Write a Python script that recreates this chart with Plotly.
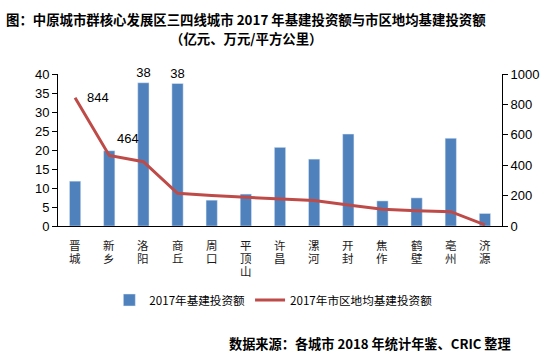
import plotly.graph_objects as go

cities = ["晋城", "新乡", "洛阳", "商丘", "周口", "平顶山", "许昌", "漯河", "开封", "焦作", "鹤壁", "亳州", "济源"]
invest = [11.8, 19.8, 37.7, 37.5, 6.8, 8.4, 20.7, 17.6, 24.2, 6.6, 7.4, 23.1, 3.3]
density = [844, 464, 423, 215, 200, 189, 182, 167, 138, 110, 101, 94, 8]
bar_label_idx = [2, 3]
line_label_idx = [0, 1]
title_lines = ["图：中原城市群核心发展区三四线城市 2017 年基建投资额与市区地均基建投资额",
               "（亿元、万元/平方公里）"]
source_text = "数据来源：各城市 2018 年统计年鉴、CRIC 整理"

FONT = "Liberation Sans, Arial, Noto Sans CJK SC"
CJK = "Noto Sans CJK SC"

# plot-area geometry in pixels (for placing annotations in paper coords)
L, R, T, B = 58, 507, 74, 226
PW, PH = R - L, B - T


def px_x(x):
    return (x - L) / PW


def px_y(y):
    return (B - y) / PH


bar_text = [f"{round(v)}" if i in bar_label_idx else "" for i, v in enumerate(invest)]

fig = go.Figure()
fig.add_trace(go.Bar(
    x=cities, y=invest, name="2017年基建投资额",
    marker=dict(color="#4F81BD"), width=0.33,
    text=bar_text, textposition="outside", cliponaxis=False, constraintext="none",
    textfont=dict(size=13, color="#000000", family=FONT),
))
fig.add_trace(go.Scatter(
    x=cities, y=density, name="2017年市区地均基建投资额", yaxis="y2",
    mode="lines", line=dict(color="#BE4B48", width=3), cliponaxis=False,
))

label_offsets = {0: (23, 0), 1: (19, 17)}
annotations = []
for i in line_label_idx:
    dx, dy = label_offsets[i]
    annotations.append(dict(
        x=cities[i], y=density[i], xref="x", yref="y2", text=str(density[i]),
        showarrow=False, xshift=dx, yshift=dy,
        font=dict(size=13, family=FONT, color="#000000"),
    ))
# vertical (stacked) category labels
for c in cities:
    for k, ch in enumerate(c):
        annotations.append(dict(
            x=c, xref="x", y=px_y(245 + 13 * k), yref="paper", yanchor="middle",
            text=ch, showarrow=False, borderpad=0,
            font=dict(size=11.5, family=CJK, color="#1a1a1a"),
        ))
for line, ypx in zip(title_lines, [19, 38]):
    annotations.append(dict(
        text=f"<b>{line}</b>", xref="paper", yref="paper",
        x=px_x(248), xanchor="center", y=px_y(ypx), yanchor="middle",
        showarrow=False, font=dict(size=13.4, family=CJK, color="#000000"),
    ))
annotations.append(dict(
    text=f"<b>{source_text}</b>",
    xref="paper", yref="paper", x=px_x(518), xanchor="right",
    y=px_y(343), yanchor="middle", showarrow=False,
    font=dict(size=13.2, family=CJK, color="#000000"),
))

fig.update_layout(
    width=552, height=358,
    margin=dict(l=L, r=552 - R, t=T, b=358 - B),
    paper_bgcolor="white", plot_bgcolor="white",
    font=dict(family=FONT, size=13, color="#000000"),
    xaxis=dict(
        showticklabels=False,
        showline=True, linecolor="#000000", linewidth=1,
        ticks="", showgrid=False,
    ),
    yaxis=dict(
        range=[0, 40], dtick=5, showgrid=False, zeroline=False,
        showline=True, linecolor="#000000", linewidth=1,
        ticks="outside", ticklen=5, tickcolor="#000000",
        tickfont=dict(size=13, family=FONT),
    ),
    yaxis2=dict(
        range=[0, 1000], dtick=200, overlaying="y", side="right",
        showgrid=False, zeroline=False,
        showline=True, linecolor="#000000", linewidth=1,
        ticks="outside", ticklen=5, tickcolor="#000000",
        tickfont=dict(size=13, family=FONT),
    ),
    legend=dict(
        orientation="h", x=0.485, xanchor="center", y=px_y(300), yanchor="middle",
        font=dict(size=11.6, family=CJK), traceorder="normal",
        itemwidth=30,
    ),
    annotations=annotations,
)

fig.write_html("out.html", config={"displayModeBar": False},
               post_script="document.body.style.margin='0';document.body.style.padding='0';")
